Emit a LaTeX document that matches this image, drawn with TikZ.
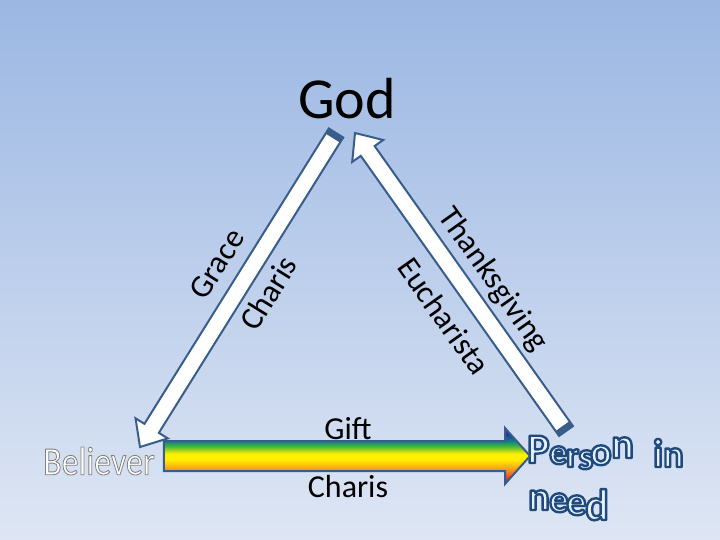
\documentclass[tikz,border=0pt]{standalone}
\usepackage{fontspec}
\setmainfont{Carlito}
\usetikzlibrary{calc}

\definecolor{bgtop}{RGB}{155,183,227}
\definecolor{bgbot}{RGB}{222,230,244}
\definecolor{arrline}{RGB}{56,93,138}
\definecolor{needfill}{RGB}{232,241,251}
\definecolor{rbblue}{RGB}{30,60,160}
\definecolor{rbteal}{RGB}{20,130,130}
\definecolor{rbgreen}{RGB}{60,180,60}
\definecolor{rbyellow}{RGB}{255,240,0}
\definecolor{rborange}{RGB}{250,150,30}
\definecolor{rbred}{RGB}{220,40,40}

\pgfdeclareverticalshading{rainbow}{100bp}{color(0bp)=(rbred); color(28bp)=(rbred);
  color(38bp)=(rborange); color(47bp)=(rbyellow); color(52bp)=(rbyellow);
  color(59bp)=(rbgreen); color(63bp)=(rbteal); color(69bp)=(rbblue); color(100bp)=(rbblue)}

% outlined text: stroke colour (rgb), stroke width, text
\newcommand\outlined[3]{%
  \special{pdf:literal direct #1 RG 2 Tr #2 w 1 j}#3\special{pdf:literal direct 0 Tr}}

% block arrow: style, tail, tip, half shaft, half head, head length
\newcommand\blockarrow[6]{%
  \coordinate (#2-base) at ($(#3)!#6!(#2)$);
  \path[#1] ($(#2)!#4!90:(#3)$) -- ($(#2-base)!#4!90:(#3)$)
    -- ($(#2-base)!#5!90:(#3)$) -- (#3)
    -- ($(#2-base)!#5!-90:(#3)$) -- ($(#2-base)!#4!-90:(#3)$)
    -- ($(#2)!#4!-90:(#3)$) -- cycle;
}
% dark band at the tail end
\newcommand\tailcap[3]{%
  \coordinate (#1-cap) at ($(#1)!6pt!(#2)$);
  \fill[arrline] ($(#1)!#3!90:(#2)$) -- ($(#1-cap)!#3!90:(#2)$)
    -- ($(#1-cap)!#3!-90:(#2)$) -- ($(#1)!#3!-90:(#2)$) -- cycle;
}

\begin{document}
\begin{tikzpicture}[x=1pt,y=-1pt,
	lbl/.style={inner sep=0pt, font=\fontsize{32}{32}\selectfont},
	whitearrow/.style={fill=white, draw=arrline, line width=2pt},
	giftarrow/.style={shade, shading=rainbow, draw=arrline, line width=2pt},
	needletter/.style={inner sep=0pt, anchor=base west, text=needfill, font=\bfseries}
	]
	\useasboundingbox (0,0) rectangle (720,540);
	\shade[top color=bgtop, bottom color=bgbot] (0,0) rectangle (720,540);
	
	\node[inner sep=0pt, font=\fontsize{58}{58}\selectfont] (god) at (347,99) {God};
	\node[inner sep=0pt, text=white] (believer) at (99,461)
		{\fontsize{40}{40}\selectfont\scalebox{0.85}[1]{\outlined{0.5 0.5 0.5}{0.9}{Believer}}};
	
	% Person in need
	\foreach \ch/\px/\py/\sz [count=\k] in {P/527/463/42, e/549/464/36, r/566/467/36,
		s/578/469/38, o/590/465/40, n/611/458/42, i/653/467/40, n/663/467/38}
		\node[needletter] (pin\k) at (\px,\py) {\fontsize{\sz}{\sz}\selectfont\outlined{0.12 0.29 0.49}{2.4}{\ch}};
	\foreach \ch/\px/\py/\sz [count=\k] in {n/528/510/40, e/549/512/38, e/566/515/40, d/585/520/44}
		\node[needletter] (need\k) at (\px,\py) {\fontsize{\sz}{\sz}\selectfont\outlined{0.12 0.29 0.49}{2.4}{\ch}};
	
	% God -> Believer
	\coordinate (gracetail) at (336,133);
	\coordinate (gracetip) at (140,447);
	\blockarrow{whitearrow}{gracetail}{gracetip}{8.5pt}{19pt}{22pt}
	\tailcap{gracetail}{gracetip}{8.5pt}
	
	% Person in need -> God
	\coordinate (thankstail) at (566,431);
	\coordinate (thankstip) at (355,133);
	\blockarrow{whitearrow}{thankstail}{thankstip}{8.5pt}{19pt}{22pt}
	\tailcap{thankstail}{thankstip}{8.5pt}
	
	% Believer -> Person in need
	\coordinate (gifttail) at ([xshift=9pt,yshift=5pt]believer.east);
	\coordinate (gifttip) at (530,456);
	\blockarrow{giftarrow}{gifttail}{gifttip}{15pt}{28pt}{25pt}
	
	\node[lbl, rotate=58] (grace) at (217,264) {Grace};
	\node[lbl, rotate=58] (charis1) at (268,293) {Charis};
	\node[lbl, rotate=-54.7] (thanks) at (493,280) {Thanksgiving};
	\node[lbl, rotate=-54.7] (euch) at (444,316) {Eucharista};
	\node[lbl] (gift) at (348,429) {Gift};
	\node[lbl] (charis2) at (348,487) {Charis};
\end{tikzpicture}
\end{document}
